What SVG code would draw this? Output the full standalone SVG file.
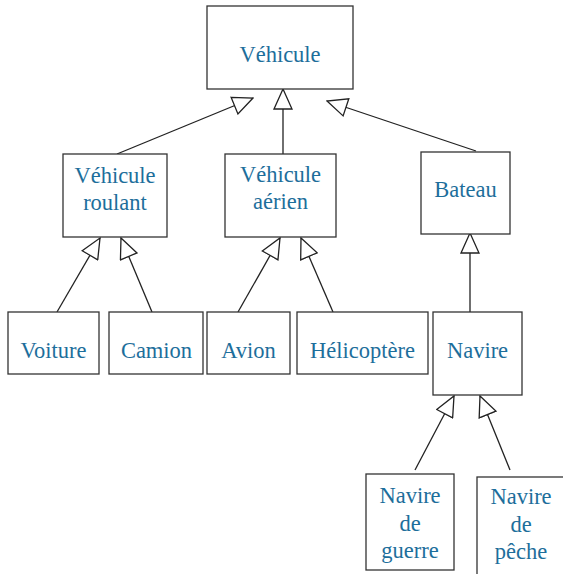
<svg xmlns="http://www.w3.org/2000/svg" width="563" height="574" viewBox="0 0 563 574">
<style>
.box{fill:#fff;stroke:#333;stroke-width:1.3}
.lbl{font-size:22.5px;fill:#1d6e9b;text-anchor:middle}
.edge{fill:none;stroke:#222;stroke-width:1.3;marker-end:url(#tri)}
</style>
<defs>
<marker id="tri" markerUnits="userSpaceOnUse" viewBox="-1 -1 22 20" refX="20" refY="9" markerWidth="22" markerHeight="20" orient="auto">
<path d="M0,0 L20,9 L0,18 Z" fill="#fff" stroke="#222" stroke-width="1.3"/>
</marker>
</defs>
<rect width="563" height="574" fill="#fff"/>
<g id="connectors">
<line class="edge" x1="117" y1="154" x2="253" y2="98"/>
<line class="edge" x1="283" y1="154" x2="283" y2="89"/>
<line class="edge" x1="476" y1="151" x2="327" y2="101"/>
<line class="edge" x1="57" y1="312" x2="100" y2="238"/>
<line class="edge" x1="152" y1="312" x2="121" y2="238"/>
<line class="edge" x1="238" y1="312" x2="280" y2="238"/>
<line class="edge" x1="333" y1="312" x2="301" y2="238"/>
<line class="edge" x1="470" y1="312" x2="470" y2="233"/>
<line class="edge" x1="415" y1="470" x2="454" y2="396"/>
<line class="edge" x1="510" y1="470" x2="480" y2="396"/>
</g>
<g font-family="Liberation Serif">
<g id="vehicule"><rect class="box" x="207" y="6" width="146" height="83"/><text class="lbl" x="280" y="62">Véhicule</text></g>
<g id="vehicule-roulant"><rect class="box" x="63" y="154" width="104" height="83"/><text class="lbl" x="115" y="183">Véhicule</text><text class="lbl" x="115" y="210">roulant</text></g>
<g id="vehicule-aerien"><rect class="box" x="225" y="154" width="111" height="83"/><text class="lbl" x="280.5" y="182">Véhicule</text><text class="lbl" x="280.5" y="209">aérien</text></g>
<g id="bateau"><rect class="box" x="421" y="152" width="89" height="82"/><text class="lbl" x="465.5" y="197">Bateau</text></g>
<g id="voiture"><rect class="box" x="8" y="312" width="91" height="62"/><text class="lbl" x="53.5" y="358">Voiture</text></g>
<g id="camion"><rect class="box" x="109" y="312" width="94" height="62"/><text class="lbl" x="156.5" y="358">Camion</text></g>
<g id="avion"><rect class="box" x="207" y="312" width="83" height="62"/><text class="lbl" x="248.5" y="358">Avion</text></g>
<g id="helicoptere"><rect class="box" x="297" y="312" width="131" height="62"/><text class="lbl" x="362.5" y="358">Hélicoptère</text></g>
<g id="navire"><rect class="box" x="433" y="312" width="89" height="83"/><text class="lbl" x="477.5" y="358">Navire</text></g>
<g id="navire-guerre"><rect class="box" x="366" y="474" width="88" height="96"/><text class="lbl" x="410" y="503">Navire</text><text class="lbl" x="410" y="531">de</text><text class="lbl" x="410" y="558">guerre</text></g>
<g id="navire-peche"><rect class="box" x="477" y="477" width="89" height="102"/><text class="lbl" x="521" y="504">Navire</text><text class="lbl" x="521" y="532">de</text><text class="lbl" x="521" y="559">pêche</text></g>
</g>
</svg>
